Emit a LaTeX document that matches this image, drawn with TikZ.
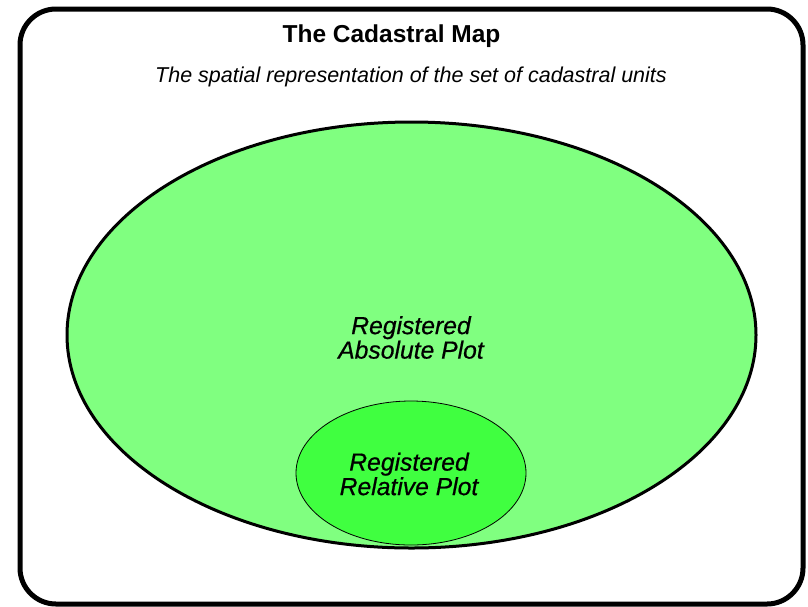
\documentclass[tikz,border=0pt]{standalone}
\usepackage{fontspec}
\setmainfont{Liberation Sans}
\usetikzlibrary{shapes.geometric}
\definecolor{absolute_color}{RGB}{128,255,128}
\definecolor{relative_color}{RGB}{64,255,64}
\tikzset{
  mapframe/.style={
    draw=black, line width=5pt, rounded corners=36pt, fill=white
  },
  absplot/.style={
    draw=black, line width=3pt, ellipse, fill=absolute_color,
    minimum width=689pt, minimum height=426pt, inner sep=0pt
  },
  relplot/.style={
    draw=black, line width=0.8pt, ellipse, fill=relative_color,
    minimum width=230pt, minimum height=144pt, inner sep=0pt
  },
  plotlabel/.style={
    align=center,
    font=\itshape\addfontfeature{FakeBold=0.6}\fontsize{24.7}{24.5}\selectfont
  }
}
\begin{document}
\begin{tikzpicture}[x=1pt, y=-1pt]

\useasboundingbox (0,0) rectangle (808,606);

\draw[mapframe] (20,9) rectangle (803,604);

\node[font=\bfseries\fontsize{24.5}{26}\selectfont] (title) at (391.5,36.5) {The Cadastral Map};
\node[font=\itshape\fontsize{21.5}{24}\selectfont] (subtitle) at (411,77) {The spatial representation of the set of cadastral units};

\node[absplot] (absolute) at (411.5,335) {};
\node[plotlabel] (absolutetext) at (411,337.5) {Registered\\Absolute Plot};

\node[relplot] (relative) at (411,473) {};
\node[plotlabel] (relativetext) at (409,474) {Registered\\Relative Plot};

\end{tikzpicture}
\end{document}
